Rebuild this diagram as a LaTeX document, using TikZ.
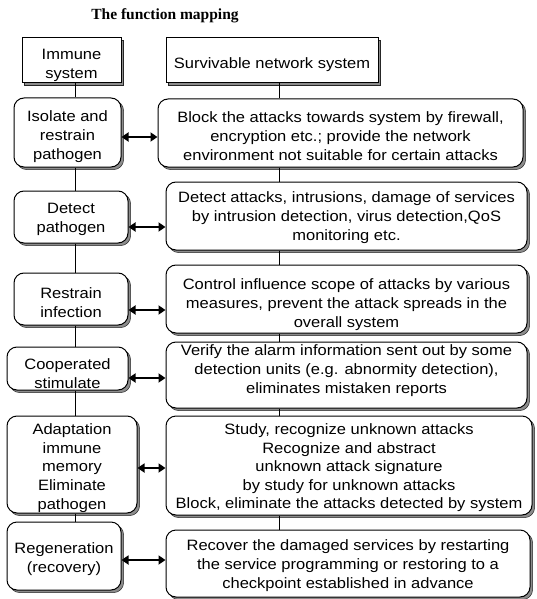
\documentclass[tikz,border=0pt]{standalone}
\usepackage{fontspec}
\setmainfont{Liberation Sans}[FakeStretch=1.1]
\newfontfamily\titlefont{Liberation Serif}
\usetikzlibrary{arrows.meta,shadows}

\begin{document}
\begin{tikzpicture}[x=1pt,y=-1pt,
  font=\fontsize{15}{19}\selectfont,
  plainbox/.style={draw, line width=1pt, fill=white, inner sep=0pt,
    drop shadow={shadow xshift=2.6pt, shadow yshift=-2.6pt, fill=black!45,
      draw=black!85, line width=0.5pt, opacity=1}},
  roundbox/.style={plainbox, rounded corners=10pt},
  txt/.style={align=center, inner sep=0pt},
  spine/.style={line width=0.8pt},
  dbl/.style={line width=2pt,
    {Triangle[length=7pt,width=9pt]}-{Triangle[length=7pt,width=9pt]}}
]
\useasboundingbox (0,0) rectangle (536,599);

% title
\node[font=\titlefont\bfseries\fontsize{15.5}{18}\selectfont] (title) at (165,16) {The function mapping};

% x positions of the two vertical spines
\coordinate (ls) at (75,0);
\coordinate (rs) at (279,0);

% left column: immune system
\node[plainbox, minimum width=99pt,  minimum height=45pt] (l0) at (71.5,60.5) {};
\node[roundbox, minimum width=107pt, minimum height=69pt] (l1) at (67.5,132.5) {};
\node[roundbox, minimum width=114pt, minimum height=52pt] (l2) at (71,217) {};
\node[roundbox, minimum width=114pt, minimum height=52pt] (l3) at (71,299) {};
\node[roundbox, minimum width=121pt, minimum height=43pt] (l4) at (67.5,368.5) {};
\node[roundbox, minimum width=130pt, minimum height=97pt] (l5) at (72,464.5) {};
\node[roundbox, minimum width=114pt, minimum height=68pt] (l6) at (64,556) {};

% right column: survivable network system
\node[plainbox, minimum width=212pt, minimum height=45pt] (r0) at (272,60.5) {};
\node[roundbox, minimum width=365pt, minimum height=68pt] (r1) at (340.5,133) {};
\node[roundbox, minimum width=361pt, minimum height=68pt] (r2) at (346.5,216) {};
\node[roundbox, minimum width=361pt, minimum height=68pt] (r3) at (346.5,299) {};
\node[roundbox, minimum width=361pt, minimum height=66pt] (r4) at (346.5,375) {};
\node[roundbox, minimum width=366pt, minimum height=99pt] (r5) at (349,465.5) {};
\node[roundbox, minimum width=364pt, minimum height=67pt] (r6) at (348,563.5) {};

% texts
\node[txt] (tl0) at ([yshift=-4.5pt]l0.center) {Immune\\system};
\node[txt] (tl1) at ([yshift=-4pt]l1.center) {Isolate and\\restrain\\pathogen};
\node[txt] (tl2) at ([yshift=-2.5pt]l2.center) {Detect\\pathogen};
\node[txt] (tl3) at ([yshift=-3.5pt]l3.center) {Restrain\\infection};
\node[txt] (tl4) at ([yshift=-5.5pt]l4.center) {Cooperated\\stimulate};
\node[txt, font=\fontsize{15}{18.8}\selectfont] (tl5) at ([yshift=-3.5pt]l5.center)
  {Adaptation\\immune\\memory\\Eliminate\\pathogen};
\node[txt] (tl6) at ([yshift=-3pt]l6.center) {Regeneration\\(recovery)};

\node[txt] (tr0) at ([yshift=-4.5pt]r0.center) {Survivable network system};
\node[txt] (tr1) at ([yshift=-3.5pt]r1.center)
  {Block the attacks towards system by firewall,\\encryption etc.; provide the network\\environment not suitable for certain attacks};
\node[txt] (tr2) at ([yshift=-2pt]r2.center)
  {Detect attacks, intrusions, damage of services\\by intrusion detection, virus detection,QoS\\monitoring etc.};
\node[txt] (tr3) at ([yshift=-6pt]r3.center)
  {Control influence scope of attacks by various\\measures, prevent the attack spreads in the\\overall system};
\node[txt] (tr4) at ([yshift=4pt]r4.center)
  {Verify the alarm information sent out by some\\detection units (e.g. abnormity detection),\\eliminates mistaken reports};
\node[txt, font=\fontsize{15}{18.5}\selectfont] (tr5) at ([yshift=-2.5pt]r5.center)
  {Study, recognize unknown attacks\\Recognize and abstract\\unknown attack signature\\by study for unknown attacks\\Block, eliminate the attacks detected by system};
\node[txt] (tr6) at ([yshift=-2.5pt]r6.center)
  {Recover the damaged services by restarting\\the service programming or restoring to a\\checkpoint established in advance};

% vertical spines
\foreach \a/\b in {l0/l1,l1/l2,l2/l3,l3/l4,l4/l5,l5/l6}
  \draw[spine] (\a.south -| ls) -- (\b.north -| ls);
\foreach \a/\b in {r0/r1,r1/r2,r2/r3,r3/r4,r4/r5,r5/r6}
  \draw[spine] (\a.south -| rs) -- (\b.north -| rs);

% correspondence arrows
\foreach \n/\dy in {1/-4.5,2/-10,3/-11,4/-9.5,5/-3.5,6/-4}{
  \path ([yshift=\dy pt]l\n.east) coordinate (a\n);
  \draw[dbl] (a\n) -- (a\n -| r\n.west);
}
\end{tikzpicture}
\end{document}
